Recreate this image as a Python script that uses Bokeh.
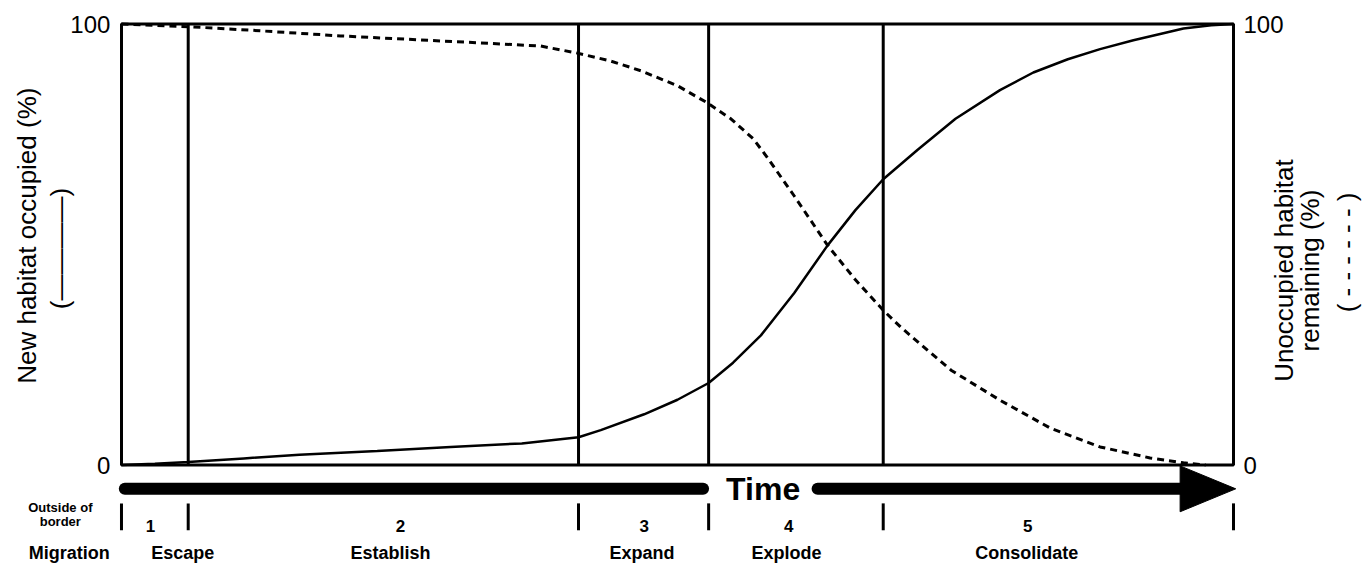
import numpy as np
from bokeh.plotting import figure
from bokeh.models import Range1d
from bokeh.core.properties import value
from bokeh.embed import file_html
from bokeh.resources import INLINE

# ---------------- data ----------------
# New habitat occupied (%) - solid curve
time_occ = [0, 3, 6, 11, 16, 23, 29.6, 36, 41.1, 43.1, 47, 50, 52.8, 55, 57.5,
            60.5, 63.5, 66, 68.5, 71.6, 75, 79, 82, 85.1, 88, 91, 93.5, 95.5, 98, 100]
pct_occ = [0, 0.3, 0.7, 1.5, 2.3, 3.2, 4.1, 4.9, 6.3, 7.9, 11.5, 14.8, 18.6, 23.2, 29.4,
           39.0, 49.8, 57.8, 64.8, 71.5, 78.5, 85.0, 89.0, 92.0, 94.3, 96.3, 97.8, 99.0, 99.7, 100]

# Unoccupied habitat remaining (%) - dashed curve
time_rem = [0, 6, 11.6, 19.7, 30, 37.7, 41, 44, 46.7, 50, 52.7, 54.8, 56.8, 58, 60.5,
            63.5, 66, 68.5, 70.1, 72.5, 74.6, 79, 83.5, 88, 92.5, 95.5, 97.5]
pct_rem = [100, 99.4, 98.6, 97.3, 96.0, 95.0, 93.4, 91.6, 89.4, 86.0, 82.1, 78.5, 74.0, 70.0, 61.0,
           49.8, 42.0, 35.1, 31.2, 26.0, 21.5, 14.7, 8.4, 4.1, 1.6, 0.5, 0]

phase_bounds = [0, 6, 41.1, 52.8, 68.5, 100]
phase_nums = ["1", "2", "3", "4", "5"]
phase_num_x = [2.6, 25.1, 47.0, 60.0, 81.5]
phase_names = ["Escape", "Establish", "Expand", "Explode", "Consolidate"]
phase_name_x = [5.5, 24.2, 46.8, 59.8, 81.4]
pre_phase_name = "Migration"
pre_phase_note = ["Outside of", "border"]

y_ticks = [0, 100]
y_tick_labels = ["0", "100"]
left_title = ["New habitat occupied (%)", "(————)"]
right_title = ["Unoccupied habitat", "remaining (%)", "( - - - - - - )"]
time_label = "Time"

FONT = value("Liberation Sans")

# ---------------- figure ----------------
p = figure(width=1371, height=567,
           x_range=Range1d(-10.88, 112.41), y_range=Range1d(-23.24, 105.33),
           output_backend="svg", toolbar_location=None,
           x_axis_location=None, y_axis_location=None, min_border=0)
p.outline_line_color = None
p.grid.grid_line_color = None
p.background_fill_color = "white"

# plot frame
p.quad(left=[phase_bounds[0]], right=[phase_bounds[-1]],
       bottom=[min(y_ticks)], top=[max(y_ticks)],
       fill_color=None, line_color="black", line_width=3)

# phase boundary lines inside plot
inner = phase_bounds[1:-1]
p.segment(x0=inner, y0=[min(y_ticks)] * len(inner), x1=inner, y1=[max(y_ticks)] * len(inner),
          line_color="black", line_width=3)

# curves
p.line(time_occ, pct_occ, line_color="black", line_width=2.5)
p.line(time_rem, pct_rem, line_color="black", line_width=3, line_dash="7 5")

# tick labels
p.text(x=[-1.0] * 2, y=y_ticks, text=y_tick_labels, text_font=FONT, text_font_size="24px",
       text_align="right", text_baseline="middle", text_color="black")
p.text(x=[100.9] * 2, y=y_ticks, text=y_tick_labels, text_font=FONT, text_font_size="24px",
       text_align="left", text_baseline="middle", text_color="black")

# axis titles (rotated)
p.text(x=[-8.54, -5.49], y=[52.0, 49.1], text=left_title, angle=np.pi / 2,
       text_font=FONT, text_font_size="26px", text_align="center", text_baseline="middle")
p.text(x=[104.5, 106.9, 110.2], y=[44.1, 44.1, 48.2], text=right_title, angle=np.pi / 2,
       text_font=FONT, text_font_size="26px", text_align="center", text_baseline="middle")

# time arrow
bar_y = -5.4
p.segment(x0=[0.3, 62.6], y0=[bar_y, bar_y], x1=[52.3, 95.3], y1=[bar_y, bar_y],
          line_color="black", line_width=12, line_cap="round")
p.patch(x=[95.2, 95.2, 100.2], y=[bar_y + 5.2, bar_y - 5.2, bar_y],
        fill_color="black", line_color="black")
p.text(x=[57.7], y=[bar_y], text=[time_label], text_font=FONT, text_font_size="32px",
       text_font_style="bold", text_align="center", text_baseline="middle")

# phase ticks below
p.segment(x0=phase_bounds, y0=[-8.7] * len(phase_bounds), x1=phase_bounds,
          y1=[-14.8] * len(phase_bounds), line_color="black", line_width=3)

# phase numbers and names
p.text(x=phase_num_x, y=[-13.9] * 5, text=phase_nums, text_font=FONT, text_font_size="17px",
       text_font_style="bold", text_align="center", text_baseline="middle")
p.text(x=[-4.7] + phase_name_x, y=[-19.9] * 6, text=[pre_phase_name] + phase_names,
       text_font=FONT, text_font_size="18px", text_font_style="bold",
       text_align="center", text_baseline="middle")
p.text(x=[-5.5, -5.5], y=[-9.6, -12.8], text=pre_phase_note, text_font=FONT,
       text_font_size="13px", text_font_style="bold", text_align="center", text_baseline="middle")

open("out.html", "w").write(file_html(p, INLINE))
